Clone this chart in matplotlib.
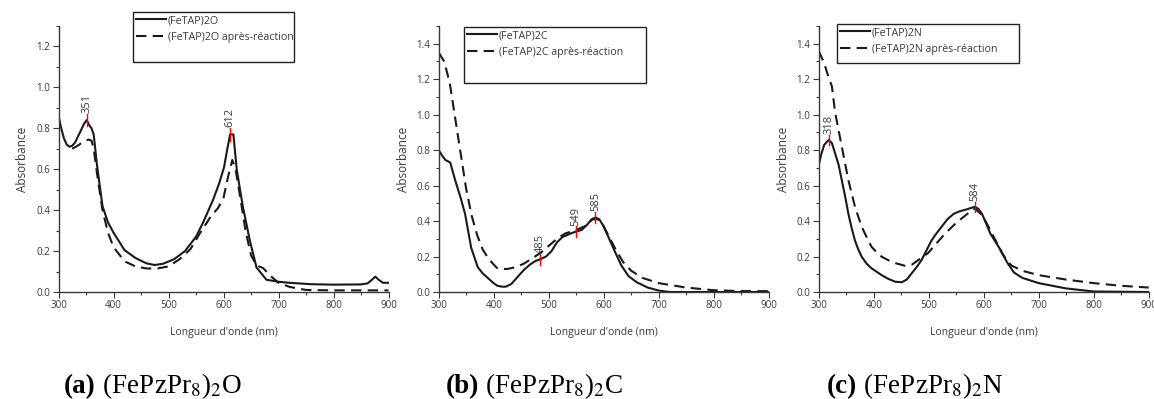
import numpy as np
import matplotlib
matplotlib.use("Agg")
import matplotlib.pyplot as plt
from matplotlib.ticker import MultipleLocator, FormatStrFormatter
from matplotlib.patches import Rectangle

# --- données (nm, absorbance) ---
# (a) (FeTAP)2O
wl_a = [300, 305, 310, 315, 320, 325, 330, 340, 346, 351, 356, 360, 364, 370, 380, 390, 400,
        420, 440, 460, 475, 490, 510, 530, 550, 563, 581, 592, 601, 607, 612, 618, 624, 635,
        648, 660, 678, 700, 720, 760, 800, 850, 862, 870, 876, 882, 890, 900]
abs_a = [0.86, 0.80, 0.75, 0.72, 0.71, 0.715, 0.73, 0.785, 0.82, 0.84, 0.815, 0.80, 0.77,
         0.62, 0.42, 0.34, 0.29, 0.205, 0.166, 0.14, 0.132, 0.138, 0.16, 0.20, 0.27, 0.34,
         0.45, 0.53, 0.61, 0.70, 0.77, 0.77, 0.60, 0.42, 0.25, 0.12, 0.06, 0.05, 0.045, 0.038,
         0.036, 0.037, 0.042, 0.06, 0.075, 0.06, 0.045, 0.045]
wl_a2 = [325, 335, 345, 355, 360, 364, 370, 380, 390, 400, 420, 440, 460, 480, 500, 520, 540,
         560, 570, 577, 590, 600, 608, 616, 622, 630, 640, 650, 660, 672, 685, 700, 720, 750,
         800, 900]
abs_a2 = [0.70, 0.715, 0.735, 0.745, 0.74, 0.70, 0.58, 0.40, 0.29, 0.22, 0.15, 0.125, 0.115,
          0.115, 0.125, 0.16, 0.21, 0.30, 0.34, 0.37, 0.41, 0.46, 0.56, 0.645, 0.60, 0.47,
          0.30, 0.18, 0.13, 0.117, 0.08, 0.045, 0.025, 0.01, 0.008, 0.008]

# (b) (FeTAP)2C
wl_b = [300, 306, 312, 321, 330, 340, 348, 359, 371, 380, 389, 398, 406, 415, 422, 432, 442,
        455, 466, 476, 485, 495, 505, 515, 525, 540, 549, 560, 570, 578, 585, 592, 600, 610,
        620, 632, 645, 660, 680, 700, 720, 900]
abs_b = [0.80, 0.77, 0.745, 0.73, 0.63, 0.53, 0.44, 0.25, 0.14, 0.105, 0.08, 0.055, 0.036,
         0.03, 0.03, 0.045, 0.08, 0.125, 0.155, 0.175, 0.185, 0.20, 0.23, 0.28, 0.31, 0.33,
         0.34, 0.35, 0.38, 0.41, 0.42, 0.41, 0.37, 0.30, 0.23, 0.15, 0.09, 0.055, 0.025, 0.008,
         0.0, 0.0]
wl_b2 = [300, 310, 320, 330, 340, 350, 360, 370, 380, 390, 400, 406, 414, 425, 440, 455, 470,
         485, 500, 515, 530, 550, 565, 580, 590, 600, 610, 620, 635, 650, 670, 700, 750, 800,
         850, 900]
abs_b2 = [1.35, 1.30, 1.18, 0.98, 0.78, 0.58, 0.43, 0.32, 0.24, 0.19, 0.155, 0.135, 0.13, 0.13,
          0.14, 0.16, 0.19, 0.22, 0.26, 0.30, 0.33, 0.35, 0.37, 0.41, 0.41, 0.37, 0.31, 0.25,
          0.17, 0.12, 0.08, 0.05, 0.025, 0.01, 0.005, 0.005]

# (c) (FeTAP)2N
wl_c = [300, 305, 310, 318, 324, 330, 336, 342, 348, 354, 360, 366, 372, 378, 387, 396, 405,
        414, 426, 439, 451, 460, 469, 478, 487, 496, 505, 514, 524, 534, 545, 556, 568, 578,
        584, 590, 597, 604, 612, 620, 630, 642, 655, 670, 700, 750, 800, 900]
abs_c = [0.716, 0.78, 0.83, 0.857, 0.84, 0.78, 0.72, 0.63, 0.54, 0.44, 0.36, 0.29, 0.24, 0.20,
         0.16, 0.134, 0.115, 0.096, 0.075, 0.058, 0.055, 0.07, 0.105, 0.14, 0.18, 0.235, 0.29,
         0.33, 0.37, 0.41, 0.44, 0.455, 0.465, 0.475, 0.48, 0.47, 0.44, 0.39, 0.33, 0.29, 0.24,
         0.17, 0.11, 0.08, 0.05, 0.02, 0.003, 0.0]
wl_c2 = [300, 310, 318, 324, 330, 342, 354, 366, 378, 387, 396, 405, 414, 426, 439, 457, 470,
         481, 499, 510, 530, 550, 570, 584, 595, 605, 620, 635, 650, 670, 700, 750, 800, 850, 900]
abs_c2 = [1.36, 1.29, 1.21, 1.16, 1.01, 0.82, 0.63, 0.48, 0.37, 0.31, 0.255, 0.225, 0.20, 0.18,
          0.163, 0.148, 0.155, 0.18, 0.22, 0.26, 0.33, 0.39, 0.44, 0.47, 0.44, 0.39, 0.30,
          0.21, 0.15, 0.12, 0.095, 0.07, 0.05, 0.035, 0.025]

# pics annotés
pics_a = [351, 612]
pics_b = [485, 549, 585]
pics_c = [318, 584]

noms = ['(FeTAP)2O', '(FeTAP)2C', '(FeTAP)2N']
lettres = ['(a)', '(b)', '(c)']
formules = [' (FePzPr$_8$)$_2$O', ' (FePzPr$_8$)$_2$C', ' (FePzPr$_8$)$_2$N']
ymax = [1.3, 1.5, 1.5]

plt.rcParams['font.family'] = ['Open Sans', 'DejaVu Sans']
plt.rcParams['mathtext.fontset'] = 'stix'
gris = '#3a3a3a'
W, H = 1154, 399

fig = plt.figure(figsize=(W / 100, H / 100), dpi=100)
lefts = [58.5, 438.7, 818.7]
donnees = [(wl_a, abs_a, wl_a2, abs_a2, pics_a),
           (wl_b, abs_b, wl_b2, abs_b2, pics_b),
           (wl_c, abs_c, wl_c2, abs_c2, pics_c)]
boites = [(133, 12, 294, 62), (464, 27, 646, 83), (837, 24, 1019, 63)]
caption_x = [64, 446, 827]

for i in range(3):
    wl, ab, wl2, ab2, pics = donnees[i]
    ax = fig.add_axes([lefts[i] / W, 107 / H, 330 / W, 266 / H])
    ax.plot(wl, ab, color='#1a1a1a', lw=1.5, label=noms[i])
    ax.plot(wl2, ab2, color='#1a1a1a', lw=1.5, ls=(0, (5, 3)), label=noms[i] + ' après-réaction')
    ax.set_xlim(300, 900)
    ax.set_ylim(0, ymax[i])
    ax.xaxis.set_major_locator(MultipleLocator(100))
    ax.xaxis.set_minor_locator(MultipleLocator(50))
    ax.yaxis.set_major_locator(MultipleLocator(0.2))
    ax.yaxis.set_minor_locator(MultipleLocator(0.1))
    ax.yaxis.set_major_formatter(FormatStrFormatter('%.1f'))
    for s in ['top', 'right']:
        ax.spines[s].set_visible(False)
    for s in ['left', 'bottom']:
        ax.spines[s].set_color(gris)
        ax.spines[s].set_linewidth(1.0)
    ax.tick_params(which='major', direction='out', length=4, width=0.8, colors=gris, labelsize=7, pad=2)
    ax.tick_params(which='minor', direction='out', length=2, width=0.8, colors=gris)
    ax.set_xlabel("Longueur d'onde (nm)", fontsize=7.5, color=gris, labelpad=11)
    ax.set_ylabel('Absorbance', fontsize=8.5, color=gris, labelpad=5)

    # annotations des pics
    for p in pics:
        yp = np.interp(p, wl, ab)
        ax.plot([p, p], [yp - 0.03, yp + 0.03], color='red', lw=1)
        ax.text(p, yp + 0.035, str(p), rotation=90, ha='center', va='bottom', fontsize=8, color=gris)

    # boîte de légende
    x0, y0, x1, y1 = boites[i]
    fig.patches.append(Rectangle((x0 / W, 1 - y1 / H), (x1 - x0) / W, (y1 - y0) / H,
                                 transform=fig.transFigure, fill=False, edgecolor='#222222', lw=1.0))
    leg = ax.legend(loc='upper left', bbox_to_anchor=(x0 / W, 1 - y0 / H),
                    bbox_transform=fig.transFigure, fontsize=7.7, frameon=False,
                    handlelength=2.8, handletextpad=0.15, borderpad=0.3,
                    labelspacing=0.5, borderaxespad=0)
    for t in leg.get_texts():
        t.set_color(gris)

    # sous-titre
    t1 = fig.text(caption_x[i] / W, 1 - 393 / H, lettres[i], family='Liberation Serif', fontweight='bold',
                  fontsize=19.5, va='baseline', ha='left')
    fig.canvas.draw()
    bb = t1.get_window_extent()
    fig.text(bb.x1 / W, 1 - 393 / H, formules[i], family='Liberation Serif', fontsize=19.5,
             va='baseline', ha='left')

fig.savefig('out.png', dpi=100)
